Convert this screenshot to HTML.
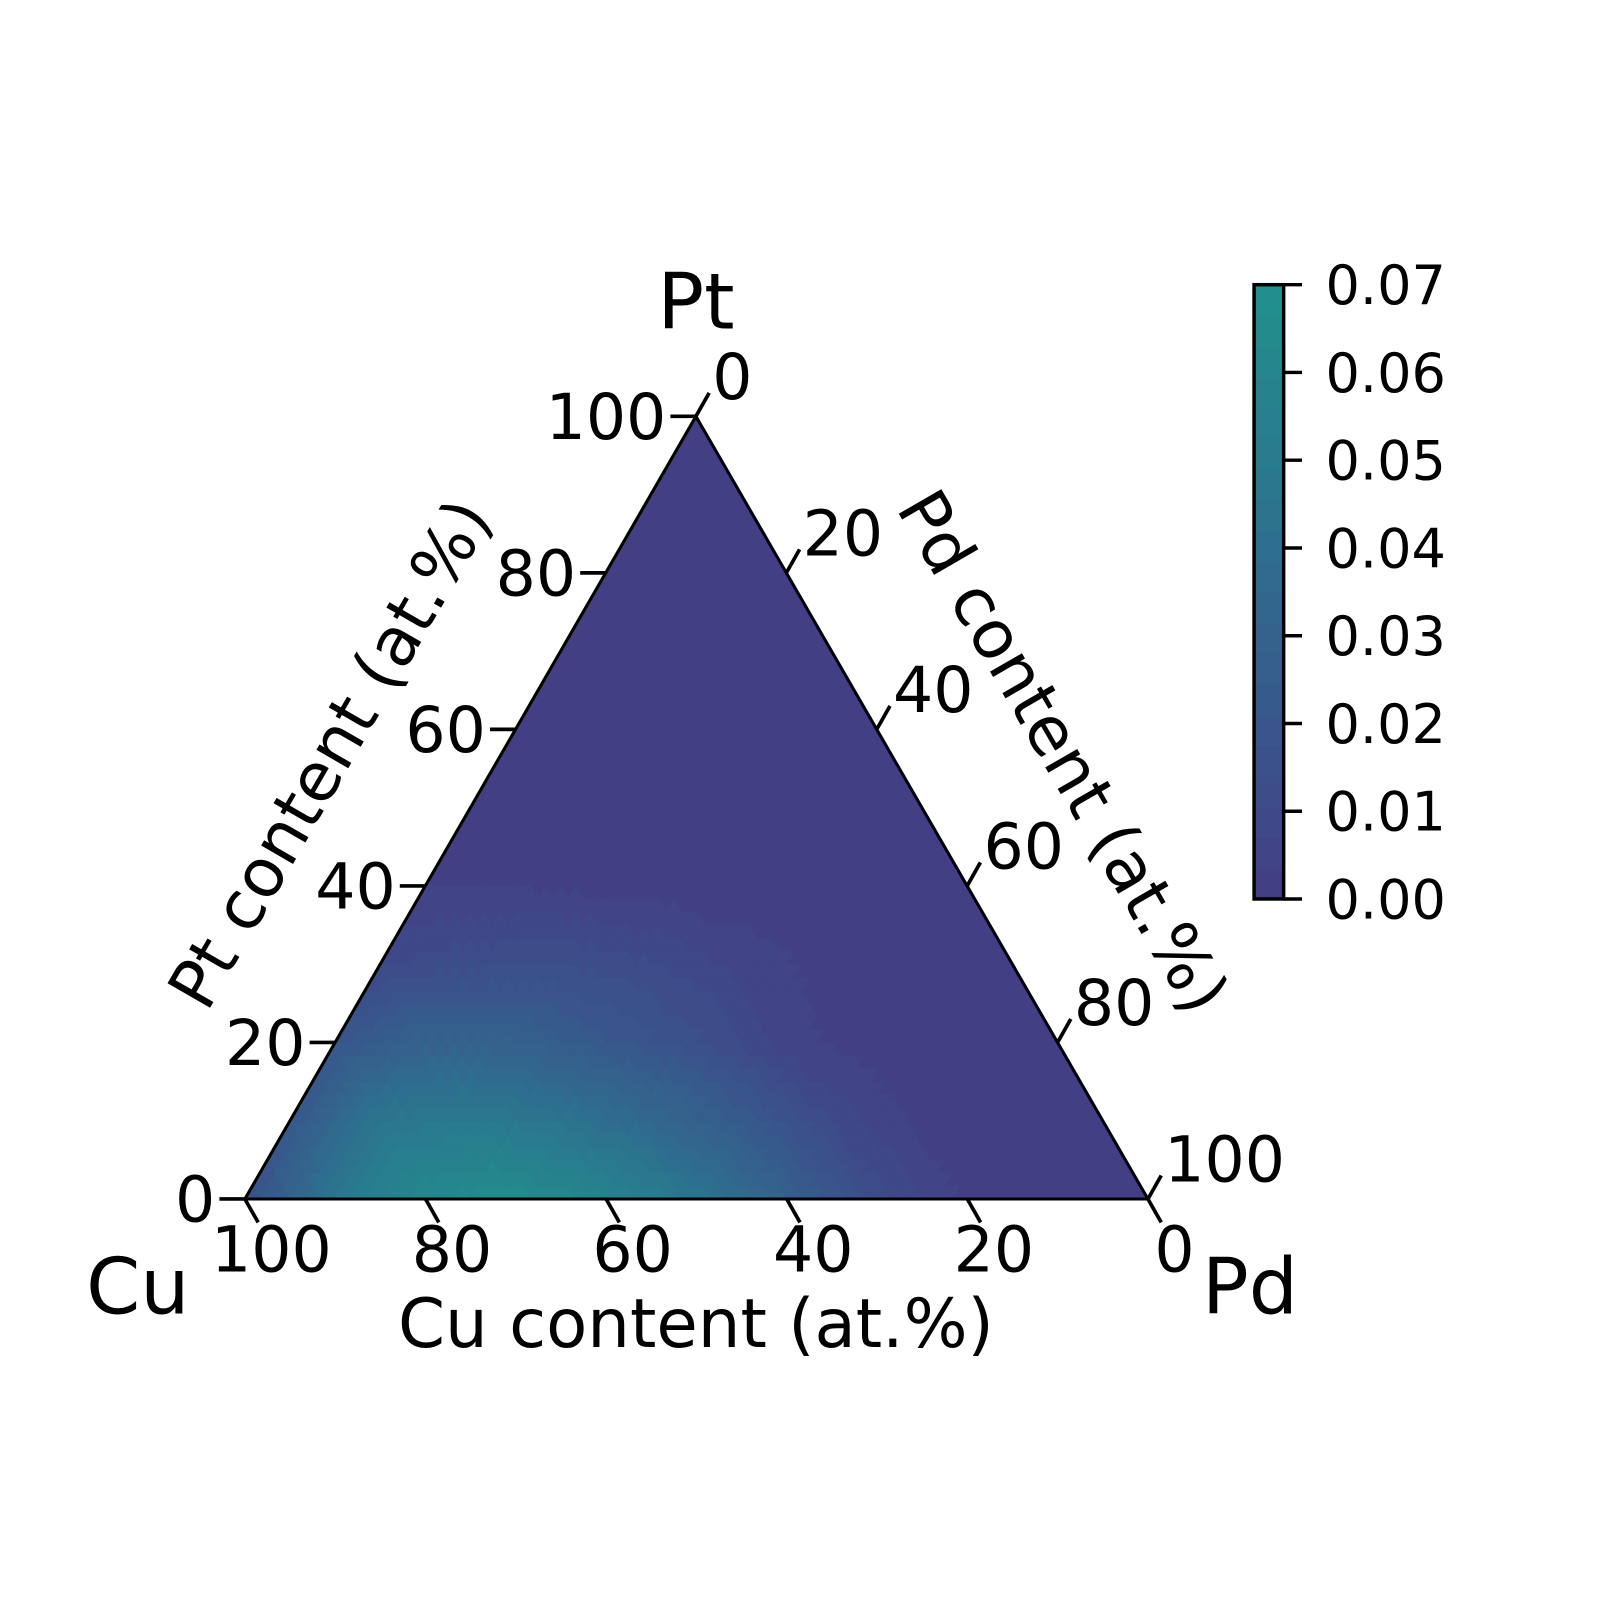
<!DOCTYPE html>
<html><head><meta charset="utf-8"><style>
html,body{margin:0;padding:0;background:#fff;}
svg{display:block;font-family:"DejaVu Sans","Liberation Sans",sans-serif;}
</style></head><body>
<svg id="chart" width="1600" height="1600" viewBox="0 0 1600 1600" xmlns="http://www.w3.org/2000/svg">
<g transform="scale(1.0204)">
<g id="heat"></g>
<g id="axes"></g>
<g id="cbar"></g>
</g>
</svg>
<script>
// Ternary grid node values: rows by Pt content (0..100 step 10); within row, Cu content from (100-Pt) down to 0
const ptLevels = [0,10,20,30,40,50,60,70,80,90,100];
const row0  = [0.015,0.046,0.063,0.066,0.058,0.045,0.028,0.012,0.003,0,0];
const row10 = [0.022,0.046,0.050,0.044,0.035,0.024,0.010,0.002,0,0];
const row20 = [0.020,0.030,0.029,0.022,0.015,0.005,0.001,0,0];
const row30 = [0.010,0.013,0.014,0.011,0.006,0.002,0,0];
const row40 = [0.003,0.003,0.002,0.001,0,0,0];
const row50 = [0,0,0,0,0,0];
const row60 = [0,0,0,0,0];
const row70 = [0,0,0,0];
const row80 = [0,0,0];
const row90 = [0,0];
const row100 = [0];
const rows = [row0,row10,row20,row30,row40,row50,row60,row70,row80,row90,row100];
const tickValues = [0,20,40,60,80,100];
const cbarTicks = ["0.00","0.01","0.02","0.03","0.04","0.05","0.06","0.07"];
const vmax = 0.07;

const NS="http://www.w3.org/2000/svg";
const CU=[240,1175], PD=[1125,1175], PT=[682,408];
function pos(cu,pt){
  const pd=100-cu-pt;
  return [ (CU[0]*cu+PD[0]*pd+PT[0]*pt)/100, (CU[1]*cu+PD[1]*pd+PT[1]*pt)/100 ];
}
const vir=[[0,[68,1,84]],[0.1,[72,36,117]],[0.2,[65,68,135]],[0.3,[53,95,141]],[0.4,[42,120,142]],[0.5,[33,145,140]],[0.6,[34,168,132]]];
function color(v){
  let q=Math.floor(Math.max(0,Math.min(v,vmax-1e-9))/(vmax/20))+0.5;
  const t=0.175+q/20*0.325;
  for(let i=0;i<vir.length-1;i++){
    if(t<=vir[i+1][0]){const f=(t-vir[i][0])/(vir[i+1][0]-vir[i][0]);
      const c=vir[i][1].map((a,k)=>Math.round(a+(vir[i+1][1][k]-a)*f));return `rgb(${c})`;}
  }
  return "rgb(34,168,132)";
}
function val(i,j){ return rows[i][j]; }
function el(tag,attrs,parent){const e=document.createElementNS(NS,tag);for(const k in attrs)e.setAttribute(k,attrs[k]);parent.appendChild(e);return e;}
const heat=document.getElementById('heat');
const bg=el('polygon',{points:[CU,PD,PT].map(p=>p.join(',')).join(' '),fill:color(0)},heat);


const S=6;
function interp(cu,pt){
  const a=pt/10, b=(100-cu-pt)/10;
  let i=Math.min(Math.floor(a),9), j=Math.min(Math.floor(b),9-i);
  if(i<0)i=0;if(j<0)j=0;
  const fa=a-i, fb=b-j;
  if(fa+fb<=1 || i+j+2>10){
    const v00=val(i,j), v10=rows[i+1]?rows[i+1][j]??0:0, v01=rows[i][j+1]??0;
    return v00*(1-fa-fb)+v10*fa+v01*fb;
  } else {
    const v11=rows[i+1][j+1]??0, v10=rows[i+1][j]??0, v01=rows[i][j+1]??0;
    const ga=1-fa, gb=1-fb;
    return v11*(1-ga-gb)+v01*ga+v10*gb;
  }
}
const N=10*S, st=100/N;
for(let i=0;i<N;i++){for(let j=0;j<N-i;j++){
  const tris=[[[i,j],[i+1,j],[i,j+1]]];
  if(i+j+2<=N) tris.push([[i+1,j],[i+1,j+1],[i,j+1]]);
  for(const tr of tris){
    let cx=0,cy=0;const pts=tr.map(([a,b])=>{const pt=a*st,pd=b*st,cu=100-pt-pd;cx+=cu/3;cy+=pt/3;return pos(cu,pt);});
    const v=interp(cx,cy);
    if(v<vmax/20) continue;
    const c=color(v);
    const p=el('polygon',{points:pts.map(p=>p.map(x=>x.toFixed(1)).join(',')).join(' '),fill:c,stroke:c,'stroke-width':0.8},heat);
    
    
  }
}}
const ax=document.getElementById('axes');
const frame=el('polygon',{points:[CU,PD,PT].map(p=>p.join(',')).join(' '),fill:'none',stroke:'#000','stroke-width':3},ax);


function txt(s,x,y,size,anchor,name,rot){
  const t=el('text',{x:x,y:y,'font-size':size,'text-anchor':anchor||'start',fill:'#000'},ax);
  if(rot!==undefined)t.setAttribute('transform',`rotate(${rot} ${x} ${y})`);
  t.textContent=s;
  
  
  return t;
}
for(const v of tickValues){
  let p=pos(100-v,v);
  let l=el('line',{x1:p[0]-25,y1:p[1],x2:p[0],y2:p[1],stroke:'#000','stroke-width':3.6},ax);
  
  
  txt(String(v),p[0]-29,p[1]+22,62,'end','pt-tick-label');
  p=pos(v,0);
  l=el('line',{x1:p[0],y1:p[1],x2:p[0]+13,y2:p[1]+23,stroke:'#000','stroke-width':3.6},ax);
  
  
  txt(String(v),p[0]+26,p[1]+71,62,'middle','cu-tick-label');
  p=pos(0,100-v);
  l=el('line',{x1:p[0],y1:p[1],x2:p[0]+13,y2:p[1]-23,stroke:'#000','stroke-width':3.6},ax);
  
  
  txt(String(v),p[0]+16,p[1]-17,62,'start','pd-tick-label');
}
txt('Pt',682,322,76,'middle','pt-vertex-label');
txt('Cu',135,1287,76,'middle','cu-vertex-label');
txt('Pd',1225,1287,76,'middle','pd-vertex-label');
txt('Cu content (at.%)',682,1320,66,'middle','cu-axis-title');
txt('Pt content (at.%)',343,750,66,'middle','pt-axis-title',-60);
txt('Pd content (at.%)',1022,748,66,'middle','pd-axis-title',60);
const cb=document.getElementById('cbar');
const cx0=1229,cx1=1258,cyTop=279,cyBot=881;
for(let k=0;k<20;k++){
  const y0=cyBot-(k+1)*(cyBot-cyTop)/20;
  const r=el('rect',{x:cx0,y:y0.toFixed(1),width:cx1-cx0,height:((cyBot-cyTop)/20+0.6).toFixed(1),fill:color((k+0.5)*vmax/20)},cb);
  
  
}
const cbf=el('rect',{x:cx0,y:cyTop,width:cx1-cx0,height:cyBot-cyTop,fill:'none',stroke:'#000','stroke-width':3.4},cb);


cbarTicks.forEach((s,k)=>{
  const y=cyBot-(parseFloat(s)/vmax)*(cyBot-cyTop);
  const l=el('line',{x1:cx1,y1:y,x2:cx1+18,y2:y,stroke:'#000','stroke-width':3.4},cb);
  
  
  const t=el('text',{x:1299,y:y+19,'font-size':53,fill:'#000'},cb);
  t.textContent=s;
  
  
});
</script>
</body></html>
